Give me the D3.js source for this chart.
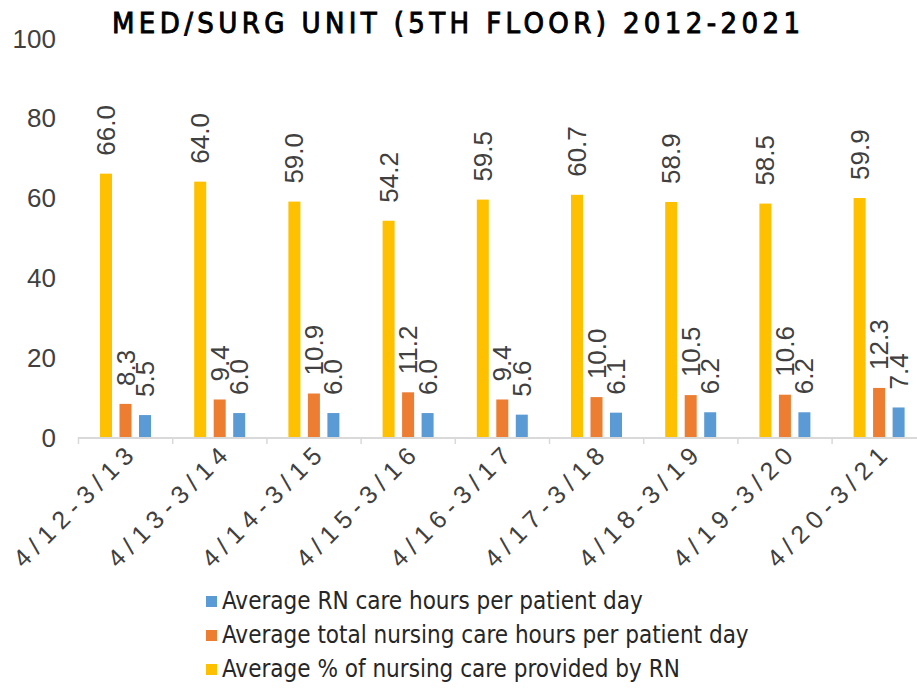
<!DOCTYPE html>
<html><head><meta charset="utf-8">
<script src="https://cdn.jsdelivr.net/npm/d3@7"></script>
<style>
html,body{margin:0;padding:0;background:#fff;}
svg{display:block;}
</style></head>
<body>
<svg id="chart" width="917" height="690"></svg>
<script>
const categories = ["4/12-3/13","4/13-3/14","4/14-3/15","4/15-3/16","4/16-3/17","4/17-3/18","4/18-3/19","4/19-3/20","4/20-3/21"];
const rnHours = [5.5, 6.0, 6.0, 6.0, 5.6, 6.1, 6.2, 6.2, 7.4];
const totalHours = [8.3, 9.4, 10.9, 11.2, 9.4, 10.0, 10.5, 10.6, 12.3];
const pctRN = [66.0, 64.0, 59.0, 54.2, 59.5, 60.7, 58.9, 58.5, 59.9];
const yTicks = [0, 20, 40, 60, 80, 100];
const seriesNames = ["Average RN care hours per patient day","Average total nursing care hours per patient day","Average % of nursing care provided by RN"];
const title = "MED/SURG UNIT (5TH FLOOR) 2012-2021";

const colors = {pct:"#FFC000", total:"#ED7D31", rn:"#5B9BD5"};
const series = [
  {key:"pct", values:pctRN, color:colors.pct},
  {key:"total", values:totalHours, color:colors.total},
  {key:"rn", values:rnHours, color:colors.rn}
];

const svg = d3.select("#chart");
const y = d3.scaleLinear().domain([0,100]).range([437,38]);
const x = d3.scaleBand().domain(categories).range([78.5, 78.5+9*94.2]);
const x1 = d3.scalePoint().domain(series.map(s=>s.key)).range([27.5, 66.5]);
const bw = 12;

// title
svg.append("text").attr("x",112).attr("y",33)
  .attr("textLength",688).attr("lengthAdjust","spacing")
  .style("font-family","'Liberation Sans Narrow','DejaVu Sans Condensed','Arial Narrow',sans-serif")
  .style("font-weight","normal").style("font-size","29px").attr("fill","#000")
  .attr("stroke","#000").attr("stroke-width",0.9)
  .text(title);

// y axis labels
const yAxis = d3.axisLeft(y).tickValues(yTicks).tickSize(0).tickPadding(0);
const gy = svg.append("g").attr("transform","translate(56,0)").call(yAxis);
gy.select(".domain").remove();
gy.selectAll("text").style("font-family","'Liberation Sans',Arial,sans-serif")
  .style("font-size","26px").attr("fill","#404040").attr("dy","0.35em");

// x axis
const axisY = 437;
svg.append("line").attr("x1",78).attr("x2",917).attr("y1",axisY+1).attr("y2",axisY+1)
  .attr("stroke","#d9d9d9").attr("stroke-width",2);
const bounds = categories.map(c=>x(c)).concat([x(categories[categories.length-1])+x.bandwidth()]);
svg.selectAll(".tk").data(bounds).enter().append("line")
  .attr("x1",d=>d).attr("x2",d=>d).attr("y1",axisY).attr("y2",axisY+7)
  .attr("stroke","#d9d9d9").attr("stroke-width",1.5);

// bars
series.forEach(s=>{
  const g = svg.append("g");
  g.selectAll("rect").data(s.values).enter().append("rect")
    .attr("x",(d,i)=>x(categories[i])+x1(s.key)-bw/2)
    .attr("y",d=>y(d)).attr("width",bw).attr("height",d=>axisY-y(d))
    .attr("fill",s.color);
  g.selectAll("text").data(s.values).enter().append("text")
    .attr("transform",(d,i)=>`translate(${x(categories[i])+x1(s.key)+9},${y(d)-18}) rotate(-90)`)
    .style("font-family","'Liberation Sans',Arial,sans-serif").style("font-size","26px")
    .attr("fill","#404040").attr("text-anchor","start")
    .text(d=>d.toFixed(1));
});

// x labels
svg.selectAll(".xl").data(categories).enter().append("text")
  .attr("transform",d=>`translate(${x(d)+x.bandwidth()/2+14},${axisY+16}) rotate(-45)`)
  .attr("text-anchor","end")
  .style("font-family","'Liberation Sans',Arial,sans-serif").style("font-size","25px")
  .style("letter-spacing","6.5px")
  .attr("fill","#404040").text(d=>d);

// legend
const legendOrder = [
  {name:seriesNames[0], color:colors.rn},
  {name:seriesNames[1], color:colors.total},
  {name:seriesNames[2], color:colors.pct}
];
const lg = svg.selectAll(".lg").data(legendOrder).enter().append("g")
  .attr("transform",(d,i)=>`translate(206,${601+i*34})`);
lg.append("rect").attr("x",0).attr("y",-5).attr("width",11).attr("height",11).attr("fill",d=>d.color);
lg.append("text").attr("x",16).attr("y",8)
  .style("font-family","'Liberation Sans Narrow','DejaVu Sans Condensed','Arial Narrow',sans-serif")
  .style("font-size","24px").attr("fill","#262626").text(d=>d.name);
</script>
</body></html>
